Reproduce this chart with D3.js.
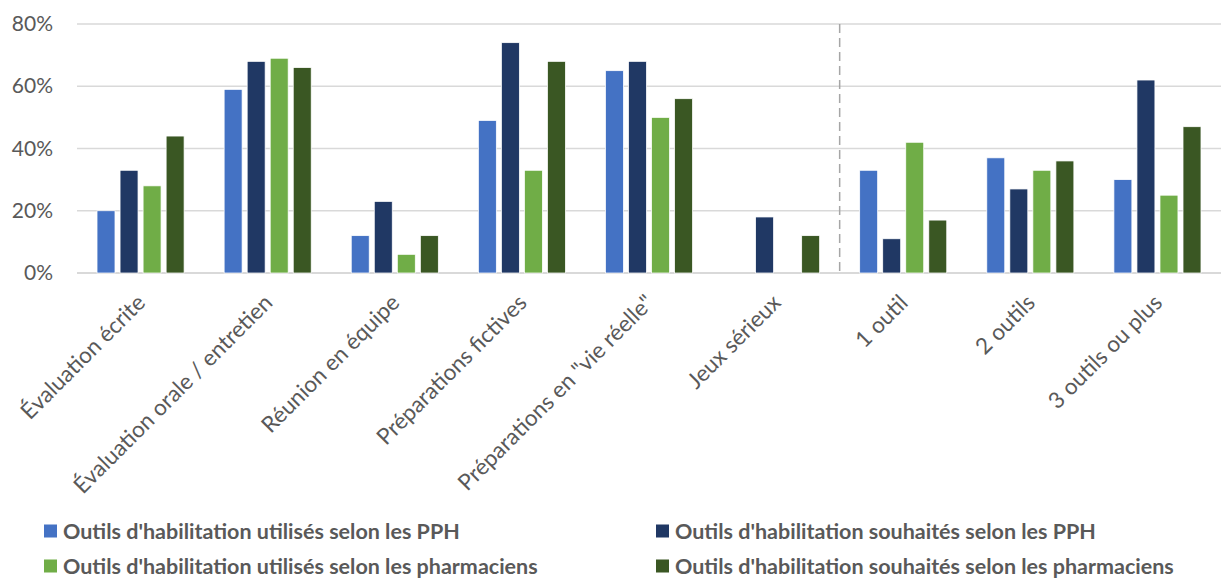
<!DOCTYPE html>
<meta charset="utf-8">
<style>
body { margin: 0; background: #fff; }
text { font-family: Lato, "Open Sans", sans-serif; fill: #595959; }
</style>
<body>
<script src="https://d3js.org/d3.v7.min.js"></script>
<script>

let categories = ['Évaluation écrite', 'Évaluation orale / entretien', 'Réunion en équipe',
	'Préparations fictives', 'Préparations en "vie réelle"', 'Jeux sérieux',
	'1 outil', '2 outils', '3 outils ou plus'];
let seriesNames = [
	"Outils d'habilitation utilisés selon les PPH",
	"Outils d'habilitation souhaités selon les PPH",
	"Outils d'habilitation utilisés selon les pharmaciens",
	"Outils d'habilitation souhaités selon les pharmaciens"
];
let usedPPH = [20, 59, 12, 49, 65, 0, 33, 37, 30];
let wishedPPH = [33, 68, 23, 74, 68, 18, 11, 27, 62];
let usedPharma = [28, 69, 6, 33, 50, 0, 42, 33, 25];
let wishedPharma = [44, 66, 12, 68, 56, 12, 17, 36, 47];
let yTicks = [0, 20, 40, 60, 80];
let colors = ['#4472c4', '#203864', '#70ad47', '#3a5723'];

let width = 1221, height = 580;
let series = [usedPPH, wishedPPH, usedPharma, wishedPharma];

let svg = d3.select('body').append('svg')
	.attr('width', width)
	.attr('height', height);

let x = d3.scaleBand()
	.domain(categories)
	.range([77, 1221])
	.paddingInner(0.315)
	.paddingOuter(0.1575);

let x1 = d3.scaleBand()
	.domain(d3.range(4))
	.range([0, x.bandwidth()])
	.paddingInner(0.22);

let y = d3.scaleLinear()
	.domain([0, 80])
	.range([273, 24]);

// grille
svg.append('g')
	.selectAll('line')
	.data(yTicks)
	.enter().append('line')
	.attr('x1', 77).attr('x2', 1221)
	.attr('y1', d => y(d)).attr('y2', d => y(d))
	.attr('stroke', '#d9d9d9')
	.attr('stroke-width', d => d == 0 ? 2 : 1.5);

let yAxis = d3.axisLeft(y).tickValues(yTicks).tickFormat(d => d + '%').tickSize(0).tickPadding(0);
svg.append('g')
	.attr('transform', 'translate(53,0)')
	.call(yAxis)
	.call(g => g.select('.domain').remove())
	.selectAll('text')
	.style('font-size', '21px')
	.attr('fill', '#595959');

// séparateur pointillé
let step = x.step();
svg.append('line')
	.attr('x1', x(categories[6]) - x.paddingOuter() * step)
	.attr('x2', x(categories[6]) - x.paddingOuter() * step)
	.attr('y1', y(80)).attr('y2', y(0))
	.attr('stroke', '#a6a6a6')
	.attr('stroke-width', 1.5)
	.attr('stroke-dasharray', '9,5');

let groups = svg.append('g')
	.selectAll('g')
	.data(categories)
	.enter().append('g')
	.attr('transform', d => 'translate(' + x(d) + ',0)');

groups.selectAll('rect')
	.data((d, i) => series.map((s, j) => ({ s: j, v: s[i] })))
	.enter().append('rect')
	.filter(d => d.v > 0)
	.attr('x', d => x1(d.s))
	.attr('width', x1.bandwidth())
	.attr('y', d => y(d.v))
	.attr('height', d => y(0) - y(d.v))
	.attr('fill', d => colors[d.s])
	.attr('stroke', '#fff')
	.attr('stroke-width', 0.75);

// étiquettes de catégories
svg.append('g')
	.selectAll('text')
	.data(categories)
	.enter().append('text')
	.attr('transform', d => 'translate(' + (x(d) + x.bandwidth() / 2 - 5) + ',293) rotate(-45)')
	.attr('text-anchor', 'end')
	.attr('dy', '0.7em')
	.style('font-size', '22.5px')
	.text(d => d);

// légende
let legendPos = [[44, 531], [656, 531], [44, 566], [656, 566]];
let legend = svg.append('g')
	.selectAll('g')
	.data(seriesNames)
	.enter().append('g')
	.attr('transform', (d, i) => 'translate(' + legendPos[i][0] + ',' + legendPos[i][1] + ')');
legend.append('rect')
	.attr('x', 0).attr('y', -6.5)
	.attr('width', 13).attr('height', 13)
	.attr('fill', (d, i) => colors[i]);
legend.append('text')
	.attr('x', 19)
	.attr('dy', '0.35em')
	.style('font-size', '21.5px')
	.style('font-weight', 'bold')
	.text(d => d);

</script>
</body>
